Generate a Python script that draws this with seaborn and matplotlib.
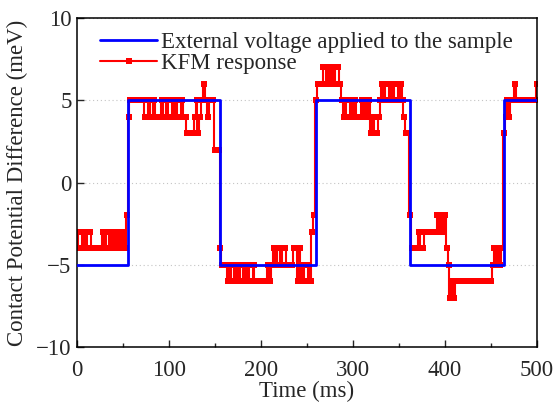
import numpy as np
import pandas as pd
import matplotlib
matplotlib.use('Agg')
import matplotlib.pyplot as plt
import seaborn as sns
from matplotlib.ticker import MultipleLocator

# external voltage: level held from each switching time
volt_time = [0, 55, 156, 260, 362, 464, 500]
volt_level = [-5, 5, -5, 5, -5, 5, 5]

# KFM response, one reading every 2 ms (meV)
kfm_step = 2
kfm_values = [
    # 0 - 54 ms
    -4, -3, -3, -4, -3, -4, -3, -3, -4, -4, -4, -4, -4, -4,
    -3, -4, -3, -3, -4, -3, -4, -3, -4, -3, -4, -3, -4, -2,
    # 56 - 154 ms
    4, 5, 5, 5, 5, 5, 5, 5, 5,
    4, 4, 5, 4, 4, 5, 4, 4, 4,
    5,
    4, 4, 5, 4, 4, 5, 4, 5, 4, 4, 5, 4,
    4, 3, 3, 3, 3, 4, 5, 3, 4, 5, 6, 5, 4, 5, 5, 5, 2, 2, 2,
    # 156 - 258 ms
    -4, -5, -5, -5,
    -6, -5, -6, -6, -5, -6, -5, -6, -6, -5, -6, -5, -6, -6, -5, -6,
    -6, -6, -6, -6, -6, -6,
    -5, -6, -5, -4, -5, -4, -4, -5, -4, -4, -5,
    -5, -5, -5, -4, -4, -6, -4, -6, -5, -6, -6, -5, -6, -3, -2,
    # 260 - 362 ms
    5, 6, 6, 6, 7, 7, 6, 7, 6, 7, 6, 7, 7, 6, 5,
    4, 5, 4, 4, 5, 4, 5, 4, 4, 4, 5, 4, 5, 4, 5,
    3, 4, 3, 3, 4,
    5, 6, 5, 6, 6, 5, 6, 5, 6, 6, 5, 6, 5,
    4, 3, 3, -2,
    # 364 - 462 ms
    -4, -4, -4, -4, -3, -4, -4, -3,
    -3, -3, -3, -3, -3, -3,
    -2, -3, -2, -3, -2, -4, -5, -7, -6, -7,
    -6, -6, -6, -6, -6, -6, -6, -6, -6, -6,
    -6, -6, -6, -6, -6, -6, -6, -6, -6, -6,
    -5, -4, -5, -4, -5, -4,
    # 464 - 500 ms
    3, 4, 5, 4, 5, 5, 6, 5,
    5, 5, 5, 5, 5, 5, 5, 5, 5, 5, 6,
]

kfm = pd.DataFrame({'time': np.arange(len(kfm_values)) * kfm_step,
                    'cpd': kfm_values})
volt = pd.DataFrame({'time': volt_time, 'cpd': volt_level})

sns.set_style('ticks')
plt.rcParams['font.family'] = ['Liberation Serif', 'DejaVu Serif']
plt.rcParams['font.size'] = 16.5
plt.rcParams['xtick.direction'] = 'in'
plt.rcParams['ytick.direction'] = 'in'

fig = plt.figure(figsize=(5.58, 4.07), dpi=100)
ax = fig.add_axes([0.138, 0.147, 0.824, 0.809])

sns.lineplot(data=kfm, x='time', y='cpd', ax=ax, estimator=None, sort=False,
             color='#ff0000', lw=1.5, marker='s', markersize=4.2,
             markeredgewidth=0, drawstyle='steps-mid',
             label='KFM response', zorder=2)
sns.lineplot(data=volt, x='time', y='cpd', ax=ax, estimator=None, sort=False,
             color='#0000ff', lw=2, drawstyle='steps-post',
             label='External voltage applied to the sample', zorder=3)

ax.set_xlim(0, 500)
ax.set_ylim(-10, 10)
ax.xaxis.set_major_locator(MultipleLocator(100))
ax.xaxis.set_minor_locator(MultipleLocator(50))
ax.yaxis.set_major_locator(MultipleLocator(5))
ax.tick_params(which='major', length=5, width=1, labelsize=16.5, pad=4)
ax.tick_params(axis='x', which='major', pad=9)
ax.tick_params(which='minor', length=3, width=1)
ax.yaxis.grid(True, ls=(0, (1, 2.5)), color='#c4c4c4', lw=0.8)
for s in ax.spines.values():
    s.set_linewidth(1.1)
    s.set_color('black')

ax.set_xlabel('Time (ms)', fontsize=16.5, labelpad=0)
ax.set_ylabel('Contact Potential Difference (meV)', fontsize=16.5, labelpad=6)

h, l = ax.get_legend_handles_labels()
ax.legend(h[::-1], l[::-1], loc='upper left', frameon=False, fontsize=16.5,
          handlelength=2.5, handletextpad=0.15, labelspacing=0.0,
          borderaxespad=0.2, bbox_to_anchor=(0.02, 1.0))

fig.savefig('out.png', dpi=100)
